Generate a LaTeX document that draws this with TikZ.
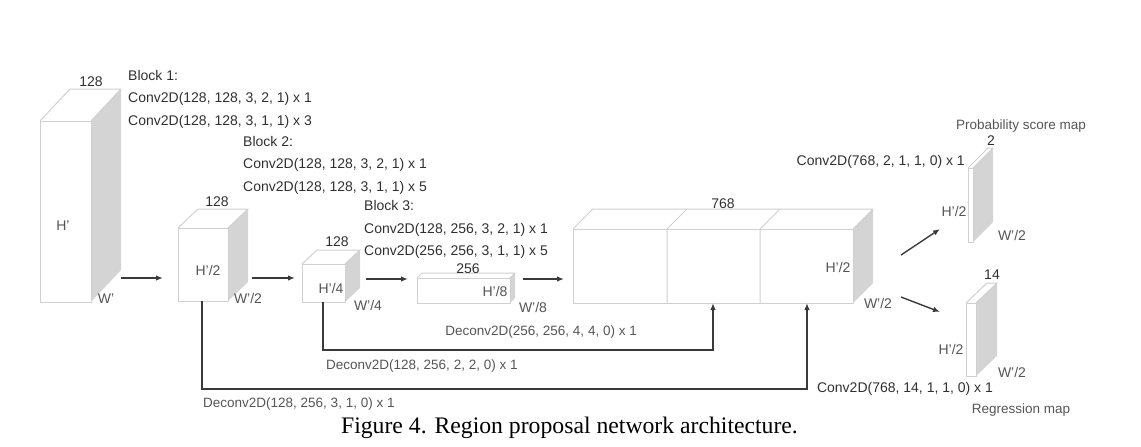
\documentclass[tikz,border=0pt]{standalone}
\usepackage{fontspec}
\setmainfont{Liberation Sans}
\newfontfamily\capfont{Liberation Serif}
\usetikzlibrary{arrows.meta}

\definecolor{edgegray}{HTML}{D0D0D0}
\definecolor{sidegray}{HTML}{D4D4D4}
\definecolor{txtdark}{HTML}{303030}
\definecolor{txtgray}{HTML}{555555}
\definecolor{arrowgray}{HTML}{3A3A3A}

\tikzset{
  edge/.style={draw=edgegray, line width=1pt},
  sideface/.style={fill=sidegray},
  lbl/.style={font=\fontsize{14}{16}\selectfont, text=txtdark, inner sep=0pt, anchor=base west},
  dim/.style={font=\fontsize{14}{16}\selectfont, text=txtgray, inner sep=0pt, anchor=base},
  num/.style={font=\fontsize{14}{16}\selectfont, text=txtdark, inner sep=0pt, anchor=base},
  note/.style={font=\fontsize{13.5}{16}\selectfont, text=txtgray, inner sep=0pt},
  flow/.style={draw=arrowgray, line width=1.4pt, -{Latex[length=7pt,width=5.5pt]}},
  skip/.style={draw=arrowgray, line width=1.4pt, -{Latex[length=7pt,width=5.5pt]}},
}

% name, x, y (front top left), width, height, depth x, depth y
\newcommand{\layerbox}[7]{%
  \coordinate (#1-ftl) at (#2,#3);
  \coordinate (#1-ftr) at ({#2+#4},#3);
  \coordinate (#1-fbr) at ({#2+#4},{#3+#5});
  \coordinate (#1-btl) at ({#2+#6},{#3-#7});
  \coordinate (#1-btr) at ({#2+#4+#6},{#3-#7});
  \coordinate (#1-bbr) at ({#2+#4+#6},{#3+#5-#7});
  \fill[sideface] (#1-ftr) -- (#1-btr) -- (#1-bbr) -- (#1-fbr) -- cycle;
  \draw[edge] (#1-ftl) -- (#1-btl) -- (#1-btr) -- (#1-ftr);
  \draw[edge, fill=white] (#1-ftl) rectangle (#1-fbr);
}

\begin{document}
\begin{tikzpicture}[x=1pt, y=-1pt]
  \useasboundingbox (0,0) rectangle (1141,447);

  % feature maps
  \layerbox{b1}{40}{121}{51}{181}{30}{32}
  \layerbox{b2}{178}{228}{50}{73}{20}{19}
  \layerbox{b3}{302}{264}{43}{38}{15}{14}
  \layerbox{b4}{417}{278}{93}{25}{5}{5}
  \layerbox{cat}{573}{229}{280}{74}{20}{20}
  \draw[edge] (667,229) -- (667,303) (667,229) -- (687,209);
  \draw[edge] (760,229) -- (760,303) (760,229) -- (780,209);
  \layerbox{prob}{968}{168}{5}{74}{20}{20}
  \layerbox{reg}{966}{303}{10}{73}{21}{20}

  % sizes
  \node[num] (b1-c) at (91,86) {128};
  \node[dim] (b1-h) at (63,230) {H’};
  \node[dim] (b1-w) at (106,303) {W’};
  \node[num] (b2-c) at (217,206) {128};
  \node[dim] (b2-h) at (208,275) {H’/2};
  \node[dim] (b2-w) at (248,303) {W’/2};
  \node[num] (b3-c) at (337,246) {128};
  \node[dim] (b3-h) at (331,293) {H’/4};
  \node[dim] (b3-w) at (368,310) {W’/4};
  \node[num] (b4-c) at (468,273) {256};
  \node[dim] (b4-h) at (495,296) {H’/8};
  \node[dim] (b4-w) at (533,312) {W’/8};
  \node[num] (cat-c) at (723,208) {768};
  \node[dim] (cat-h) at (838,272) {H’/2};
  \node[dim] (cat-w) at (878,308) {W’/2};
  \node[num] (prob-c) at (991,145) {2};
  \node[dim] (prob-h) at (954,216) {H’/2};
  \node[dim] (prob-w) at (1012,240) {W’/2};
  \node[num] (reg-c) at (992,279) {14};
  \node[dim] (reg-h) at (951,354) {H’/2};
  \node[dim] (reg-w) at (1012,377) {W’/2};

  % block texts
  \node[lbl] (blk1) at (128,80) {Block 1:};
  \node[lbl] (blk1-a) at (128,102) {Conv2D(128, 128, 3, 2, 1) x 1};
  \node[lbl] (blk1-b) at (128,125) {Conv2D(128, 128, 3, 1, 1) x 3};
  \node[lbl] (blk2) at (243,146) {Block 2:};
  \node[lbl] (blk2-a) at (243,168) {Conv2D(128, 128, 3, 2, 1) x 1};
  \node[lbl] (blk2-b) at (243,191) {Conv2D(128, 128, 3, 1, 1) x 5};
  \node[lbl] (blk3) at (364,210) {Block 3:};
  \node[lbl] (blk3-a) at (364,233) {Conv2D(128, 256, 3, 2, 1) x 1};
  \node[lbl] (blk3-b) at (364,255) {Conv2D(256, 256, 3, 1, 1) x 5};

  % heads
  \node[note, anchor=base] (prob-t) at (1021,129) {Probability score map};
  \node[lbl, anchor=base east] (prob-op) at (965,165) {Conv2D(768, 2, 1, 1, 0) x 1};
  \node[lbl, anchor=base] (reg-op) at (905,392) {Conv2D(768, 14, 1, 1, 0) x 1};
  \node[note, anchor=base] (reg-t) at (1021,413) {Regression map};

  % forward arrows
  \coordinate (f1) at (121,278);
  \coordinate (t1) at (163,278);
  \coordinate (f2) at (252,278);
  \coordinate (t2) at (295,278);
  \coordinate (f3) at (366,279);
  \coordinate (t3) at (408,279);
  \coordinate (f4) at (523,279);
  \coordinate (t4) at (564,279);
  \coordinate (f5) at (901,255);
  \coordinate (t5) at (940,229);
  \coordinate (f6) at (901,297);
  \coordinate (t6) at (940,312);
  \draw[flow] (f1) -- (t1);
  \draw[flow] (f2) -- (t2);
  \draw[flow] (f3) -- (t3);
  \draw[flow] (f4) -- (t4);
  \draw[flow] (f5) -- (t5);
  \draw[flow] (f6) -- (t6);

  % skip connections
  \coordinate (s3) at (323,302);
  \coordinate (e3) at (713,303);
  \coordinate (s2) at (202,301);
  \coordinate (e2) at (807,303);
  \draw[skip] (s3) -- (323,350) -| (e3);
  \draw[skip] (s2) -- (202,389) -| (e2);
  \node[note, anchor=base east] (dc1) at (637,335) {Deconv2D(256, 256, 4, 4, 0) x 1};
  \node[note, anchor=base west] (dc2) at (326,369) {Deconv2D(128, 256, 2, 2, 0) x 1};
  \node[note, anchor=base west] (dc3) at (203,407) {Deconv2D(128, 256, 3, 1, 0) x 1};

  % caption
  \node[font=\capfont\fontsize{23.7}{26}\selectfont, inner sep=0pt, anchor=base] (cap) at (569.5,433)
    {Figure 4. Region proposal network architecture.};
\end{tikzpicture}
\end{document}
